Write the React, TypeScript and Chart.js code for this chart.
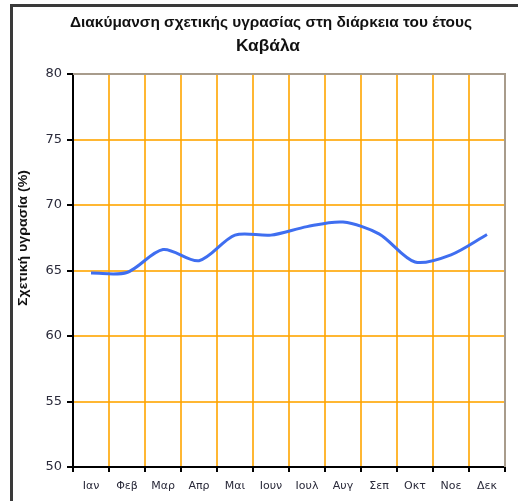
import React, { useEffect, useRef } from "react";
import { Chart, registerables } from "chart.js";

Chart.register(...registerables);

const months = ["Ιαν", "Φεβ", "Μαρ", "Απρ", "Μαι", "Ιουν", "Ιουλ", "Αυγ", "Σεπ", "Οκτ", "Νοε", "Δεκ"];
const humidity = [64.8, 64.85, 66.6, 65.75, 67.7, 67.7, 68.35, 68.7, 67.8, 65.65, 66.2, 67.75];
const yMin = 50;
const yMax = 80;
const yStep = 5;
const titleLine1 = "Διακύμανση σχετικής υγρασίας στη διάρκεια του έτους";
const titleLine2 = "Καβάλα";
const yTitle = "Σχετική υγρασία (%)";

const FONT = "'Liberation Sans', Arial, sans-serif";
const TICKFONT = "'DejaVu Sans', sans-serif";

function fitText(ctx: any, text: string, cx: number, cy: number, width: number) {
  const w = ctx.measureText(text).width;
  const s = width / w;
  ctx.save();
  ctx.translate(cx, cy);
  ctx.scale(s, 1);
  ctx.fillText(text, 0, 0);
  ctx.restore();
}

const decorPlugin = {
  id: "decor",
  afterDraw(chart: any) {
    const { ctx, chartArea } = chart;
    ctx.save();
    ctx.strokeStyle = "#a89c8c";
    ctx.lineWidth = 2;
    ctx.beginPath();
    ctx.moveTo(chartArea.left, chartArea.top);
    ctx.lineTo(chartArea.right, chartArea.top);
    ctx.lineTo(chartArea.right, chartArea.bottom);
    ctx.stroke();
    ctx.fillStyle = "#111";
    ctx.textAlign = "center";
    ctx.textBaseline = "middle";
    ctx.font = `bold 14px ${FONT}`;
    fitText(ctx, titleLine1, 271, 23, 402);
    ctx.font = `bold 17px ${FONT}`;
    fitText(ctx, titleLine2, 268, 46, 64);
    ctx.translate(24, 238);
    ctx.rotate(-Math.PI / 2);
    ctx.font = `bold 12px ${FONT}`;
    fitText(ctx, yTitle, 0, 0, 136);
    ctx.restore();
  },
};

export default function App() {
  const ref = useRef<HTMLCanvasElement>(null);
  useEffect(() => {
    if (!ref.current) return;
    const chart = new Chart(ref.current, {
      type: "line",
      data: {
        labels: months,
        datasets: [
          {
            data: humidity,
            borderColor: "#3f6ef0",
            borderWidth: 3,
            pointRadius: 0,
            tension: 0.3,
            fill: false,
          },
        ],
      },
      options: {
        responsive: false,
        animation: false,
        devicePixelRatio: 1,
        layout: { padding: { top: 74, left: 0, right: 13, bottom: 0 } },
        plugins: {
          legend: { display: false },
          tooltip: { enabled: false },
          title: { display: false },
        },
        scales: {
          x: {
            type: "category",
            offset: true,
            grid: {
              offset: true,
              color: "rgba(255,165,0,0.8)",
              lineWidth: 2,
              tickColor: "#000",
              tickLength: 5,
            },
            border: { color: "#000", width: 2 },
            ticks: {
              color: "#2a2a3a",
              font: { family: TICKFONT, size: 11 },
              padding: 8,
              maxRotation: 0,
              autoSkip: false,
            },
            afterFit(scale: any) {
              scale.height = 34;
            },
          },
          y: {
            min: yMin,
            max: yMax,
            ticks: {
              stepSize: yStep,
              color: "#2a2a3a",
              font: { family: TICKFONT, size: 13 },
              padding: 5,
            },
            grid: {
              color: "rgba(255,165,0,0.8)",
              lineWidth: 2,
              tickColor: "#000",
              tickLength: 6,
            },
            border: { color: "#000", width: 2 },
            afterFit(scale: any) {
              scale.width = 73;
            },
          },
        },
      },
      plugins: [decorPlugin],
    });
    return () => chart.destroy();
  }, []);
  return (
    <div style={{ position: "absolute", left: 0, top: 0, width: 518, height: 501, background: "#fff", overflow: "hidden" }}>
      <div
        style={{
          position: "absolute",
          left: 10,
          top: 4,
          width: 520,
          height: 510,
          borderLeft: "3px solid #3a3a3a",
          borderTop: "3px solid #3a3a3a",
          boxSizing: "border-box",
        }}
      />
      <canvas ref={ref} width={518} height={501} style={{ position: "absolute", left: 0, top: 0 }} />
    </div>
  );
}
